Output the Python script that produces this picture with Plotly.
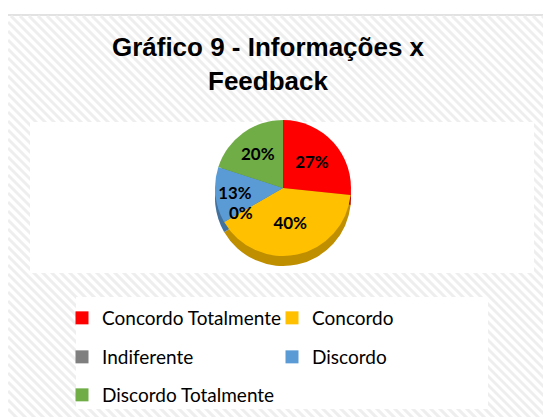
import math
import plotly.graph_objects as go

# ---- data ----
labels = ["Concordo Totalmente", "Concordo", "Indiferente", "Discordo", "Discordo Totalmente"]
counts = [4, 6, 0, 2, 3]
colors = ["#FF0000", "#FFC000", "#7F7F7F", "#5B9BD5", "#70AD47"]
side_colors = ["#B00000", "#BF8F00", "#595959", "#41719C", "#507E32"]
title_text = "Gráfico 9 - Informações x<br>Feedback"
legend_rows = [["Concordo Totalmente", "Concordo"], ["Indiferente", "Discordo"], ["Discordo Totalmente"]]

W, H = 551, 417
OFF = 8  # page body margin


def px(x):
    return (x - OFF) / W


def py(y):
    return 1 - (y - OFF) / H


# pie geometry (window pixels)
cx, cy, r, depth = 283, 188, 68, 10

fig = go.Figure()

# side (thickness) of the pie
fig.add_trace(go.Pie(
    values=counts, labels=labels, sort=False, direction="clockwise", rotation=0,
    marker=dict(colors=side_colors, line=dict(width=0)),
    textinfo="none", hoverinfo="skip", showlegend=False,
    domain=dict(x=[px(cx - r), px(cx + r)], y=[py(cy + depth + r), py(cy + depth - r)]),
))

# top face of the pie
pie_font = dict(family="Lato", size=17, color="black", weight="bold")
fig.add_trace(go.Pie(
    values=counts, labels=labels, sort=False, direction="clockwise", rotation=0,
    marker=dict(colors=colors, line=dict(width=0)),
    texttemplate="%{percent:.0%}", textposition="inside", insidetextorientation="horizontal",
    textfont=pie_font,
    showlegend=False,
    domain=dict(x=[px(cx - r), px(cx + r)], y=[py(cy + r), py(cy - r)]),
))

# labels for zero-value slices (plotly does not draw empty slices)
annotations = []
total = sum(counts)
cum = 0
for v in counts:
    if v == 0:
        ang = 2 * math.pi * cum / total
        lx = cx + 0.72 * r * math.sin(ang)
        ly = cy - 0.72 * r * math.cos(ang)
        annotations.append(dict(text="0%", x=px(lx), y=py(ly), xref="paper", yref="paper",
                                showarrow=False, font=pie_font))
    cum += v

# legend entries: one small legend per entry, laid out in a 2-column grid
col_x = [62, 272]
row_y = [318, 357, 395]
legend_layouts = {}
n = 0
for row_idx, row in enumerate(legend_rows):
    for col_idx, name in enumerate(row):
        n += 1
        key = "legend" if n == 1 else f"legend{n}"
        i = labels.index(name)
        fig.add_trace(go.Scatter(
            x=[None], y=[None], mode="markers", name=name,
            marker=dict(symbol="square", size=13, color=colors[i]),
            legend=key,
        ))
        legend_layouts[key] = dict(
            x=px(col_x[col_idx]), y=py(row_y[row_idx]), xanchor="left", yanchor="middle",
            font=dict(family="Lato", size=19, color="black"), bgcolor="rgba(0,0,0,0)",
            itemclick=False, itemdoubleclick=False,
        )

# background with faint diagonal stripes (decoration)
shapes = [dict(type="rect", xref="paper", yref="paper", x0=px(7), x1=px(W + 20), y0=py(H + 20), y1=py(15),
               fillcolor="white", line=dict(color="#d9d9d9", width=1.5), layer="below")]
x_min, x_max, y_min, y_max = 8, W + 10, 16, H + 10
c = x_min - y_max
while c < x_max - y_min:
    xa = max(x_min, c + y_min)
    xb = min(x_max, c + y_max)
    if xb > xa:
        shapes.append(dict(type="line", xref="paper", yref="paper",
                           x0=px(xa), y0=py(xa - c), x1=px(xb), y1=py(xb - c),
                           line=dict(color="#eeeeee", width=3), layer="below"))
    c += 9
# plot area and legend boxes
shapes.append(dict(type="rect", xref="paper", yref="paper", x0=px(30), x1=px(534), y0=py(273), y1=py(122),
                   fillcolor="white", line=dict(width=0), layer="below"))
shapes.append(dict(type="rect", xref="paper", yref="paper", x0=px(76), x1=px(488), y0=py(409), y1=py(297),
                   fillcolor="white", line=dict(width=0), layer="below"))

fig.update_layout(
    width=W, height=H,
    margin=dict(l=0, r=0, t=0, b=0),
    paper_bgcolor="white", plot_bgcolor="rgba(0,0,0,0)",
    title=dict(text=title_text, x=px(268), xanchor="center", y=1 - 48 / H, yanchor="top",
               font=dict(family="Liberation Sans", size=26, color="black", weight="bold")),
    xaxis=dict(visible=False), yaxis=dict(visible=False),
    shapes=shapes,
    annotations=annotations,
    **legend_layouts,
)

fig.write_html("out.html")
